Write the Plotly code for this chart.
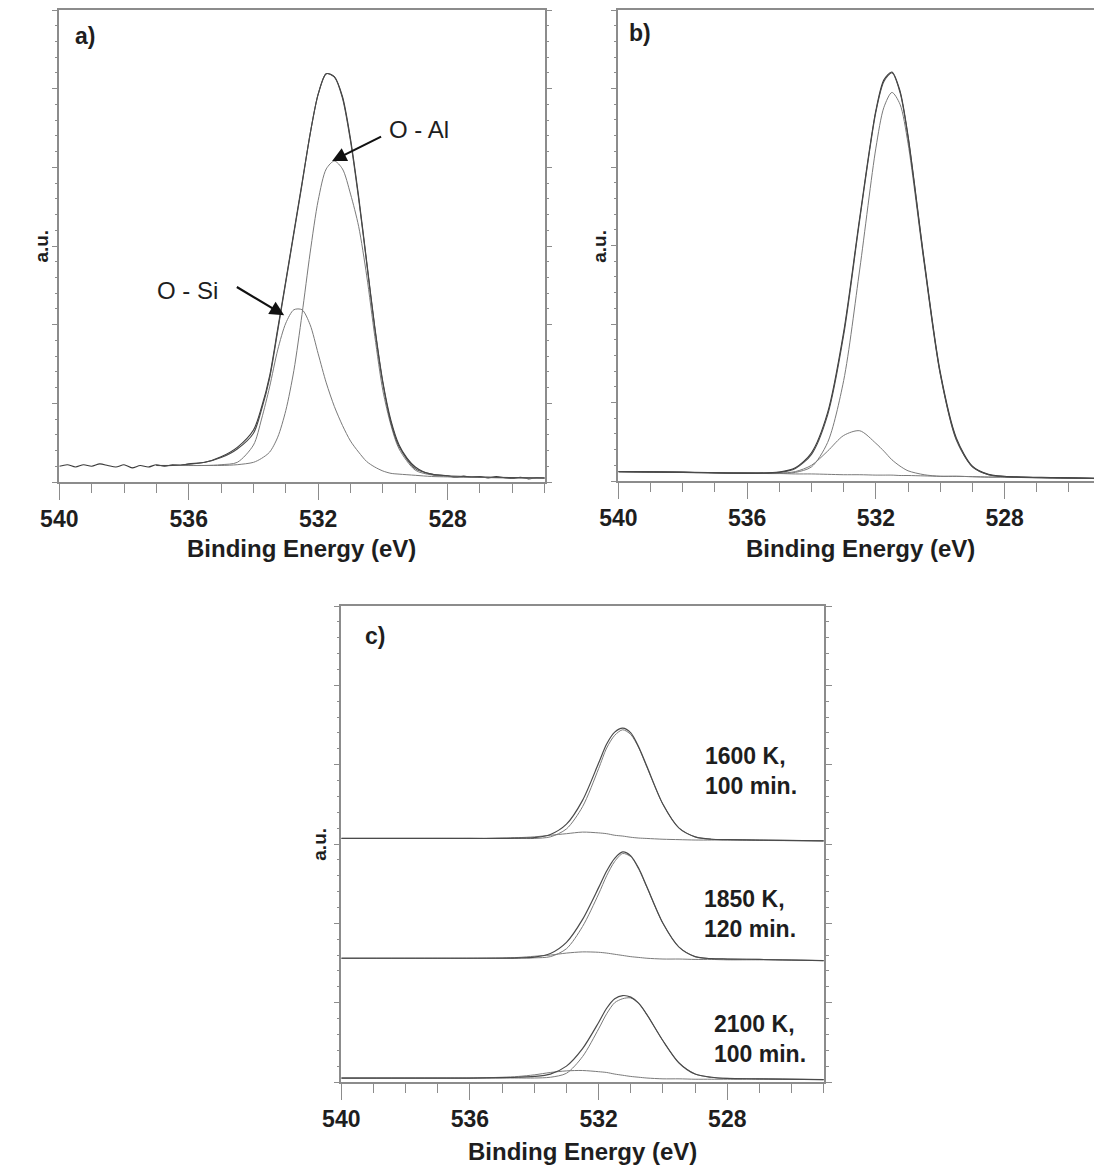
import plotly.graph_objects as go

W, H = 1094, 1168
FONT = "Liberation Sans, Arial, sans-serif"

# ---------------- data: panel a ----------------
a_x = [537, 536.5, 535.5, 535, 534.5, 534, 533.75, 533.5, 533.25, 533, 532.75, 532.5,
       532.25, 532, 531.75, 531.5, 531.25, 531, 530.75, 530.5, 530.25, 530, 529.75,
       529.5, 529, 528.5, 528, 526.5, 525]
a_fit = [0.21, 0.21, 0.25, 0.31, 0.42, 0.62, 0.92, 1.32, 1.92, 2.54, 3.16, 3.78,
         4.42, 4.93, 5.19, 5.15, 4.88, 4.33, 3.60, 2.78, 1.95, 1.25, 0.75,
         0.45, 0.17, 0.10, 0.08, 0.06, 0.05]
a_oal = [0.21, 0.21, 0.21, 0.21, 0.22, 0.25, 0.30, 0.38, 0.57, 0.91, 1.42, 2.13,
         2.91, 3.58, 3.98, 4.08, 3.98, 3.66, 3.25, 2.62, 1.85, 1.16, 0.72,
         0.42, 0.15, 0.09, 0.07, 0.055, 0.05]
a_osi = [0.21, 0.21, 0.21, 0.22, 0.25, 0.47, 0.80, 1.21, 1.68, 2.02, 2.19, 2.19,
         2.00, 1.63, 1.26, 0.96, 0.72, 0.52, 0.38, 0.26, 0.19, 0.14, 0.11,
         0.10, 0.085, 0.07, 0.065, 0.055, 0.05]
a_raw_x = [540, 539.75, 539.5, 539.25, 539, 538.75, 538.5, 538.25, 538, 537.75, 537.5,
           537.25, 537, 536.75, 536.5, 536.25, 536, 535.5, 535, 534.5, 534, 533.75,
           533.5, 533.25, 533, 532.75, 532.5, 532.25, 532, 531.75, 531.5, 531.25, 531,
           530.75, 530.5, 530.25, 530, 529.75, 529.5, 529.25, 529, 528.75, 528.5,
           528.25, 528, 527.75, 527.5, 527.25, 527, 526.75, 526.5, 526.25, 526,
           525.75, 525.5, 525.25, 525]
a_raw = [0.20, 0.22, 0.19, 0.22, 0.20, 0.23, 0.21, 0.19, 0.22, 0.18, 0.21,
         0.19, 0.22, 0.20, 0.22, 0.21, 0.23, 0.25, 0.32, 0.44, 0.66, 0.95,
         1.35, 1.95, 2.56, 3.18, 3.80, 4.42, 4.93, 5.19, 5.15, 4.90, 4.36,
         3.63, 2.80, 1.97, 1.27, 0.78, 0.47, 0.30, 0.19, 0.13, 0.10,
         0.085, 0.08, 0.06, 0.075, 0.06, 0.07, 0.05, 0.07, 0.055, 0.045,
         0.06, 0.04, 0.055, 0.05]

# ---------------- data: panel b ----------------
b_x = [540, 538, 536, 535, 534.5, 534, 533.5, 533, 532.5, 532, 531.75, 531.5, 531.25,
       531, 530.5, 530, 529.5, 529, 528.5, 528, 526.5, 525]
b_bg = [0.12, 0.11, 0.10, 0.095, 0.09, 0.09, 0.085, 0.08, 0.08, 0.075, 0.075, 0.075,
        0.07, 0.07, 0.065, 0.06, 0.06, 0.055, 0.05, 0.05, 0.04, 0.03]
b_fit = [0.12, 0.11, 0.10, 0.11, 0.16, 0.34, 0.84, 1.86, 3.33, 4.70, 5.09, 5.20, 4.95,
         4.38, 2.80, 1.37, 0.53, 0.18, 0.08, 0.055, 0.04, 0.03]
b_raw = [0.12, 0.115, 0.10, 0.115, 0.17, 0.36, 0.87, 1.90, 3.36, 4.72, 5.11, 5.21, 4.97,
         4.40, 2.82, 1.39, 0.55, 0.19, 0.085, 0.06, 0.045, 0.035]
b_oal = [0.12, 0.11, 0.10, 0.095, 0.11, 0.18, 0.49, 1.28, 2.70, 4.24, 4.76, 4.95, 4.80,
         4.30, 2.77, 1.36, 0.52, 0.18, 0.08, 0.055, 0.04, 0.03]
b_osi = [0.12, 0.11, 0.10, 0.10, 0.12, 0.20, 0.38, 0.58, 0.64, 0.48, 0.38, 0.27, 0.19,
         0.13, 0.08, 0.06, 0.06, 0.055, 0.05, 0.05, 0.04, 0.03]

# ---------------- data: panel c ----------------
c_x = [540, 537, 536, 535, 534.5, 534, 533.5, 533, 532.5, 532, 531.75, 531.5, 531.25,
       531, 530.75, 530.5, 530, 529.5, 529, 528.5, 528, 527, 525]
c1_fit = [3.07, 3.07, 3.07, 3.07, 3.075, 3.08, 3.12, 3.25, 3.55, 4.02, 4.26, 4.41, 4.46,
          4.40, 4.22, 3.98, 3.50, 3.20, 3.09, 3.06, 3.055, 3.05, 3.04]
c1_main = [3.07, 3.07, 3.07, 3.07, 3.07, 3.07, 3.09, 3.19, 3.47, 3.95, 4.21, 4.37, 4.44,
           4.38, 4.21, 3.97, 3.50, 3.20, 3.09, 3.06, 3.055, 3.05, 3.04]
c1_minor = [3.07, 3.07, 3.07, 3.075, 3.08, 3.09, 3.11, 3.13, 3.15, 3.14, 3.13, 3.11, 3.10,
            3.085, 3.075, 3.07, 3.06, 3.055, 3.05, 3.05, 3.05, 3.045, 3.04]
c2_fit = [1.56, 1.56, 1.56, 1.56, 1.565, 1.575, 1.62, 1.76, 2.05, 2.45, 2.66, 2.82, 2.90,
          2.85, 2.69, 2.46, 2.00, 1.70, 1.58, 1.555, 1.55, 1.545, 1.53]
c2_main = [1.56, 1.56, 1.56, 1.56, 1.56, 1.565, 1.58, 1.68, 1.96, 2.37, 2.60, 2.78, 2.88,
           2.84, 2.68, 2.455, 2.00, 1.70, 1.58, 1.555, 1.55, 1.545, 1.53]
c2_minor = [1.56, 1.56, 1.56, 1.565, 1.57, 1.585, 1.60, 1.625, 1.64, 1.635, 1.625, 1.61,
            1.595, 1.58, 1.57, 1.56, 1.55, 1.55, 1.545, 1.545, 1.54, 1.54, 1.53]
c3_fit = [0.05, 0.05, 0.05, 0.055, 0.06, 0.07, 0.10, 0.20, 0.42, 0.75, 0.93, 1.05, 1.09,
          1.07, 0.99, 0.85, 0.52, 0.24, 0.10, 0.06, 0.045, 0.04, 0.03]
c3_main = [0.05, 0.05, 0.05, 0.05, 0.05, 0.05, 0.06, 0.11, 0.32, 0.67, 0.86, 1.00, 1.05,
           1.06, 0.99, 0.85, 0.52, 0.24, 0.10, 0.06, 0.045, 0.04, 0.03]
c3_minor = [0.05, 0.05, 0.05, 0.06, 0.07, 0.09, 0.12, 0.14, 0.145, 0.13, 0.12, 0.10,
            0.085, 0.07, 0.06, 0.05, 0.04, 0.04, 0.035, 0.035, 0.035, 0.035, 0.03]

x_tickvals = [540, 536, 532, 528]
x_ticktext = ["540", "536", "532", "528"]
x_title = "Binding Energy (eV)"
y_title = "a.u."
c_labels = ["1600 K,<br>100 min.", "1850 K,<br>120 min.", "2100 K,<br>100 min."]

# ---------------- helpers ----------------
def fx(p):
    return p / W


def fy(p):
    return 1 - p / H


fig = go.Figure()


def add(xs, ys, ax, color, width):
    fig.add_trace(go.Scatter(
        x=xs, y=ys, xaxis=ax[0], yaxis=ax[1], mode="lines",
        line=dict(color=color, width=width, shape="spline", smoothing=0.8),
        showlegend=False, hoverinfo="skip"))


RAW_C, FIT_C, COMP_C = "#3a3a3a", "#4a4a4a", "#7a7a7a"

A = ("x", "y")
B = ("x2", "y2")
C = ("x3", "y3")

add(a_raw_x, a_raw, A, RAW_C, 1.1)
add(a_x, a_osi, A, COMP_C, 1.0)
add(a_x, a_oal, A, COMP_C, 1.0)
add(a_x, a_fit, A, FIT_C, 1.1)

add(b_x, b_bg, B, COMP_C, 1.0)
add(b_x, b_osi, B, COMP_C, 1.0)
add(b_x, b_oal, B, COMP_C, 1.0)
add(b_x, b_raw, B, RAW_C, 1.1)
add(b_x, b_fit, B, FIT_C, 1.1)

for comp, main, fit in ((c1_minor, c1_main, c1_fit),
                        (c2_minor, c2_main, c2_fit),
                        (c3_minor, c3_main, c3_fit)):
    add(c_x, comp, C, COMP_C, 1.0)
    add(c_x, main, C, COMP_C, 1.0)
    add(c_x, fit, C, FIT_C, 1.2)

AX_C = "#8c8c8c"
TICKFONT = dict(family=FONT, size=23, color="#1e1e1e", weight="bold")


def xaxis(dom, rng, anchor):
    return dict(domain=dom, range=rng, anchor=anchor, showline=True, linecolor=AX_C,
                linewidth=1.5, mirror=True, ticks="outside", ticklen=16, tickwidth=1.2,
                tickcolor=AX_C, tickmode="array", tickvals=x_tickvals,
                ticktext=x_ticktext, tickfont=TICKFONT, showgrid=False, zeroline=False,
                minor=dict(ticks="outside", ticklen=9, tickwidth=1.2, tickcolor=AX_C,
                           tickmode="linear", tick0=540, dtick=1, showgrid=False))


def yaxis(dom, anchor, mirror):
    return dict(domain=dom, range=[0, 6], anchor=anchor, showline=True, linecolor=AX_C,
                linewidth=1.5, mirror=mirror, ticks="outside", ticklen=6, tickwidth=1,
                tickcolor=AX_C, tickmode="linear", tick0=0, dtick=1,
                showticklabels=False, showgrid=False, zeroline=False,
                minor=dict(ticks="outside", ticklen=3, tickwidth=1, tickcolor=AX_C,
                           tickmode="linear", tick0=0, dtick=0.2, showgrid=False))


pa = dict(x0=41, x1=535, top=10, bottom=482)
pb = dict(x0=610, x1=1094, top=10, bottom=481)
pc = dict(x0=328, x1=819, top=606, bottom=1082)
b_right = 540 - (1094 - 610) / 32.75

fig.update_layout(
    width=W, height=H, margin=dict(l=0, r=0, t=0, b=0),
    paper_bgcolor="white", plot_bgcolor="white", showlegend=False,
    xaxis=xaxis([fx(pa["x0"]), fx(pa["x1"])], [540, 525], "y"),
    yaxis=yaxis([fy(pa["bottom"]), fy(pa["top"])], "x", "ticks"),
    xaxis2=xaxis([fx(pb["x0"]), 1.0], [540, b_right], "y2"),
    yaxis2=yaxis([fy(pb["bottom"]), fy(pb["top"])], "x2", False),
    xaxis3=xaxis([fx(pc["x0"]), fx(pc["x1"])], [540, 525], "y3"),
    yaxis3=yaxis([fy(pc["bottom"]), fy(pc["top"])], "x3", "ticks"),
)

ann = []


def ptext(text, x, y, size, bold=True, angle=0, xanchor="center", align="center"):
    t = "<b>" + text + "</b>" if bold else text
    ann.append(dict(text=t, x=fx(x), y=fy(y), xref="paper", yref="paper",
                    showarrow=False, textangle=angle, xanchor=xanchor, yanchor="middle",
                    align=align, font=dict(family=FONT, size=size, color="#1e1e1e")))


ptext(x_title, 288, 548, 24)
ptext(x_title, 856, 548, 24)
ptext(x_title, 573, 1151, 24)
ptext(y_title, 22, 246, 19, angle=-90)
ptext(y_title, 590, 246, 19, angle=-90)
ptext(y_title, 305, 844, 19, angle=-90)
ptext("a)", 67, 36, 23)
ptext("b)", 632, 33, 23)
ptext("c)", 362, 636, 23)
ptext("O - Al", 407, 130, 24, bold=False)
ptext("O - Si", 171, 290, 24, bold=False)
ptext(c_labels[0], 696, 771, 23, xanchor="left", align="left")
ptext(c_labels[1], 695, 914, 23, xanchor="left", align="left")
ptext(c_labels[2], 705, 1039, 23, xanchor="left", align="left")

# arrows (head at component, tail near label), data coords of panel a
for hx, hy, tx, ty in ((531.57, 4.08, 530.01, 4.40), (533.05, 2.12, 534.56, 2.49)):
    ann.append(dict(x=hx, y=hy, ax=tx, ay=ty, xref="x", yref="y", axref="x", ayref="y",
                    text="", showarrow=True, arrowhead=2, arrowsize=1.3, arrowwidth=2.2,
                    arrowcolor="#111"))

fig.update_layout(annotations=ann)
fig.write_html("out.html",
               config={"displayModeBar": False},
               post_script="document.body.style.margin='0px';"
                           "document.body.style.padding='0px';")
